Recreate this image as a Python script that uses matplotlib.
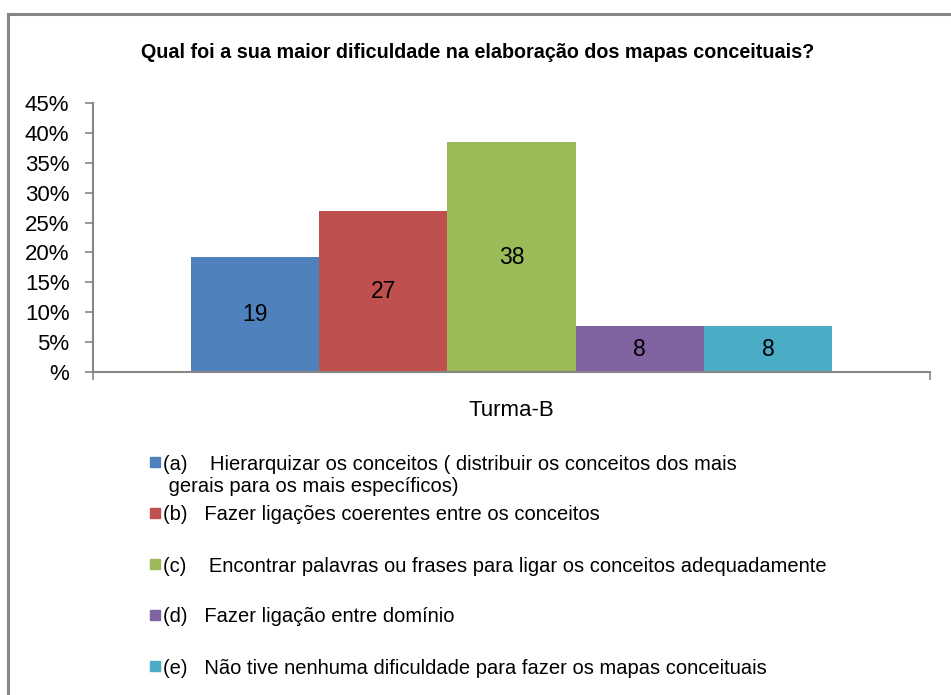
import matplotlib.pyplot as plt
from matplotlib.lines import Line2D
from matplotlib.patches import Rectangle

plt.rcParams["font.family"] = ["Liberation Sans", "DejaVu Sans"]

# data
categories = ["(a)", "(b)", "(c)", "(d)", "(e)"]
values = [19.23, 26.92, 38.46, 7.69, 7.69]
value_labels = ["19", "27", "38", "8", "8"]
colors = ["#4F81BD", "#C0504D", "#9BBB59", "#8064A2", "#4BACC6"]
legend_labels = [
    "(a)    Hierarquizar os conceitos ( distribuir os conceitos dos mais\n gerais para os mais específicos)",
    "(b)   Fazer ligações coerentes entre os conceitos",
    "(c)    Encontrar palavras ou frases para ligar os conceitos adequadamente",
    "(d)   Fazer ligação entre domínio",
    "(e)   Não tive nenhuma dificuldade para fazer os mapas conceituais",
]
yticks = [0, 5, 10, 15, 20, 25, 30, 35, 40, 45]
ytick_labels = ["%"] + [f"{t}%" for t in yticks[1:]]

W, H = 951, 695
fig = plt.figure(figsize=(W / 100, H / 100), dpi=100)

def fx(px):
    return px / W

def fy(py):
    return 1 - py / H

# outer chart frame (top and left edges visible)
fig.add_artist(Line2D([fx(8), 1.0], [fy(14), fy(14)], color="#868686", lw=2.2))
fig.add_artist(Line2D([fx(8), fx(8)], [fy(14), 0.0], color="#868686", lw=2.2))

ax = fig.add_axes([fx(93), fy(372), fx(930) - fx(93), fy(103) - fy(372)])
x = list(range(len(values)))
ax.bar(x, values, width=1.0, color=colors, zorder=2)
for xi, v, lab in zip(x, values, value_labels):
    ax.text(xi, v / 2, lab, ha="center", va="center", fontsize=16.5, color="black")

ax.set_xlim(-1.26, 5.26)
ax.set_ylim(0, 45)
ax.set_yticks(yticks)
ax.set_yticklabels(ytick_labels, fontsize=16)
ax.set_xticks([-1.26, 5.26])
ax.set_xticklabels([])
ax.tick_params(axis="both", direction="out", length=6, color="#868686", width=1.2)
ax.tick_params(axis="y", pad=11)
for side in ["top", "right"]:
    ax.spines[side].set_visible(False)
for side in ["left", "bottom"]:
    ax.spines[side].set_color("#868686")
    ax.spines[side].set_linewidth(1.5)

fig.text(fx(478), fy(52), "Qual foi a sua maior dificuldade na elaboração dos mapas conceituais?",
         ha="center", va="center", fontsize=14.2, fontweight="bold")
fig.text(fx(511), fy(411), "Turma-B", ha="center", va="center", fontsize=16)

# legend
ys = [462, 513, 564, 615, 666]
for yy, c, lab in zip(ys, colors, legend_labels):
    fig.add_artist(Rectangle((fx(150), fy(yy + 5)), fx(10), fy(0) - fy(10),
                             transform=fig.transFigure, color=c))
    for k, line in enumerate(lab.split("\n")):
        fig.text(fx(163), fy(yy + k * 23), line, ha="left", va="center_baseline",
                 fontsize=14.5)

fig.savefig("out.png", dpi=100)
